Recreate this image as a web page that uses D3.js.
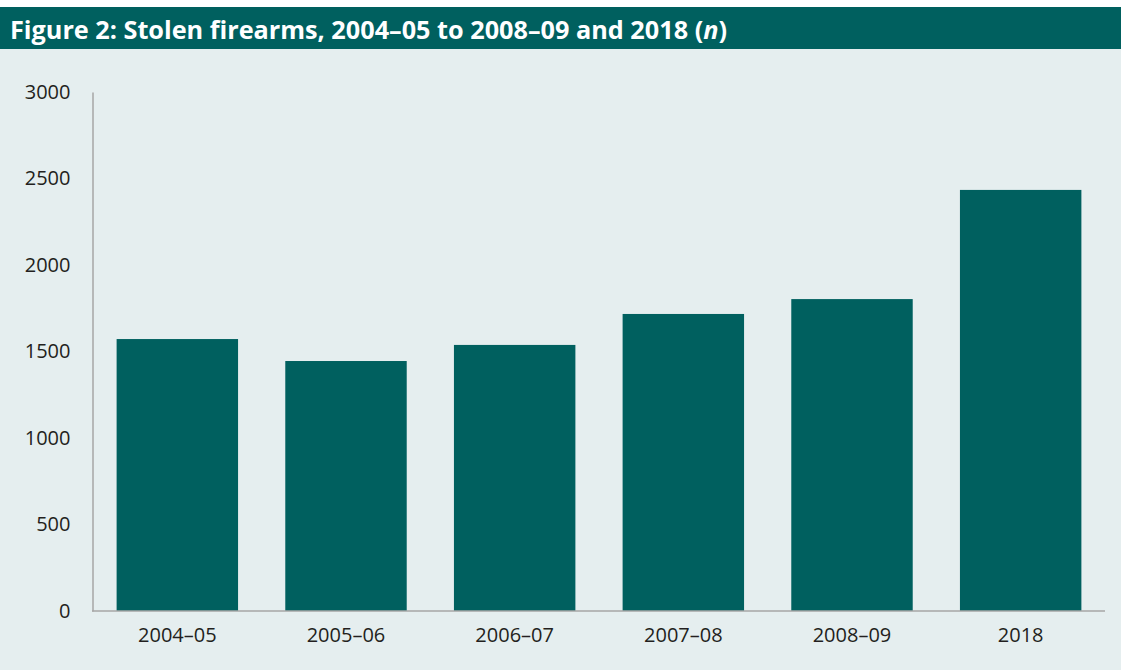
<!DOCTYPE html>
<html>
<head>
<meta charset="utf-8">
<script src="https://cdn.jsdelivr.net/npm/d3@7"></script>
<style>
  html, body { margin: 0; padding: 0; background: #ffffff; }
  svg { display: block; }
</style>
</head>
<body>
<script>
const categories = ["2004–05", "2005–06", "2006–07", "2007–08", "2008–09", "2018"];
const stolenFirearms = [1572, 1445, 1538, 1717, 1803, 2434];
const yTicks = [0, 500, 1000, 1500, 2000, 2500, 3000];
const titleText = "Figure 2: Stolen firearms, 2004–05 to 2008–09 and 2018 (";

const W = 1121, H = 670;
const teal = "#00605f", bg = "#e5eeef";

const svg = d3.select("body").append("svg").attr("width", W).attr("height", H);

svg.append("rect").attr("x", 0).attr("y", 0).attr("width", W).attr("height", H).attr("fill", "#ffffff");
svg.append("rect").attr("x", 0).attr("y", 49).attr("width", W).attr("height", H - 49).attr("fill", bg);
svg.append("rect").attr("x", 0).attr("y", 7).attr("width", W).attr("height", 42).attr("fill", teal);

const title = svg.append("text")
  .attr("x", 10).attr("y", 39)
  .attr("fill", "#ffffff")
  .attr("font-family", "'Open Sans', sans-serif")
  .attr("font-weight", "bold")
  .attr("font-size", 25)
  .attr("textLength", 717)
  .attr("lengthAdjust", "spacingAndGlyphs");
title.append("tspan").text(titleText);
title.append("tspan").attr("font-style", "italic").text("n");
title.append("tspan").text(")");

const x = d3.scaleBand().domain(categories).range([93, 1105]).paddingInner(0.28).paddingOuter(0.14);
const y = d3.scaleLinear().domain([0, 3000]).range([611, 92]);

svg.append("g").selectAll("rect")
  .data(categories.map((c, i) => ({c, v: stolenFirearms[i]})))
  .join("rect")
  .attr("x", d => x(d.c))
  .attr("width", x.bandwidth())
  .attr("y", d => y(d.v))
  .attr("height", d => y(0) - y(d.v))
  .attr("fill", teal);

const fontFam = "'Open Sans', sans-serif";

// y axis
const yAxis = svg.append("g").attr("transform", "translate(92.5,0)")
  .call(d3.axisLeft(y).tickValues(yTicks).tickSize(0).tickPadding(22).tickFormat(d3.format("d")));
yAxis.select(".domain").attr("stroke", "#a6a6a6").attr("stroke-width", 1.5);
yAxis.selectAll("text").attr("font-family", fontFam).attr("font-size", 20).attr("fill", "#231f20");

// x axis
const xAxis = svg.append("g").attr("transform", "translate(0,611)")
  .call(d3.axisBottom(x).tickSize(0).tickPadding(17));
xAxis.select(".domain").attr("stroke", "#a6a6a6").attr("stroke-width", 1.5).attr("d", "M92,0H1105");
xAxis.selectAll("text").attr("font-family", fontFam).attr("font-size", 20).attr("fill", "#231f20");
</script>
</body>
</html>
